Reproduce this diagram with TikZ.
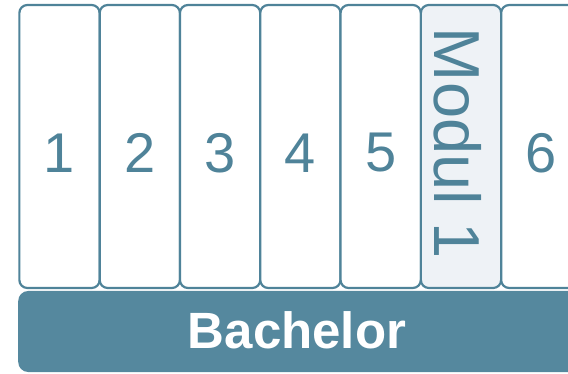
\documentclass[tikz,border=0pt]{standalone}
\usepackage{fontspec}
\setsansfont{Liberation Sans}
\definecolor{planline}{HTML}{4F8399}
\definecolor{planfill}{HTML}{55889E}
\definecolor{modfill}{HTML}{EEF2F6}
\tikzset{
  semcell/.style={draw=planline, line width=2.2pt, fill=white, rounded corners=8pt,
                  minimum width=80.3pt, minimum height=283pt, inner sep=0pt},
  modcell/.style={semcell, fill=modfill},
  semnum/.style={text=planline, font=\sffamily\fontsize{56}{60}\selectfont, inner sep=0pt},
  modtext/.style={semnum, font=\sffamily\fontsize{65}{70}\selectfont, rotate=-90},
  degreebar/.style={fill=planfill, rounded corners=10pt, minimum height=81pt,
                    minimum width=600pt, inner sep=0pt, anchor=west},
  degreetext/.style={text=white, font=\sffamily\bfseries\fontsize{51}{55}\selectfont, inner sep=0pt},
}
\begin{document}
\begin{tikzpicture}[x=1pt, y=-1pt]
    \useasboundingbox (0,0) rectangle (568,374);
    \clip (0,0) rectangle (568,374);
    % degree bar
    \node[degreebar] (bachelor) at (18,331.5) {};
    \node[degreetext] (bachelortext) at (297,330) {Bachelor};
    % semesters
    \node[semcell] (s1) at (59.5,146.5) {};
    \node[semcell] (s2) at (139.8,146.5) {};
    \node[semcell] (s3) at (220.1,146.5) {};
    \node[semcell] (s4) at (300.4,146.5) {};
    \node[semcell] (s5) at (380.7,146.5) {};
    \node[modcell] (m1) at (461.0,146.5) {};
    \node[semcell] (s6) at (541.3,146.5) {};
    \node[semnum] at ([yshift=-6.5pt]s1.center) {1};
    \node[semnum] at ([yshift=-6.5pt]s2.center) {2};
    \node[semnum] at ([yshift=-6.5pt]s3.center) {3};
    \node[semnum] at ([yshift=-6.5pt]s4.center) {4};
    \node[semnum] at ([yshift=-6.5pt]s5.center) {5};
    \node[modtext] at ([xshift=-3pt, yshift=3pt]m1.center) {Modul 1};
    \node[semnum] at ([yshift=-6.5pt]s6.center) {6};
\end{tikzpicture}
\end{document}
